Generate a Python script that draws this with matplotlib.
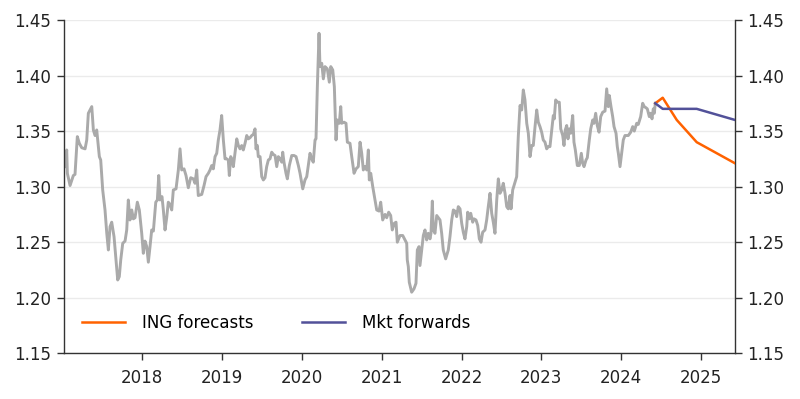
import matplotlib
matplotlib.use("Agg")
import matplotlib.pyplot as plt

# ==================== Data ====================
# spot history, x in decimal years
spot_year = [
    2017.031, 2017.052, 2017.060, 2017.094, 2017.135, 2017.156, 2017.185, 2017.210, 2017.240, 2017.282,
    2017.303, 2017.323, 2017.366, 2017.386, 2017.407, 2017.428, 2017.461, 2017.478, 2017.503, 2017.532,
    2017.554, 2017.574, 2017.595, 2017.616, 2017.645, 2017.670, 2017.691, 2017.711, 2017.729, 2017.754,
    2017.783, 2017.804, 2017.824, 2017.845, 2017.867, 2017.887, 2017.908, 2017.937, 2017.962, 2017.992,
    2018.012, 2018.033, 2018.055, 2018.075, 2018.096, 2018.117, 2018.138, 2018.168, 2018.188, 2018.205,
    2018.221, 2018.246, 2018.263, 2018.284, 2018.305, 2018.325, 2018.347, 2018.368, 2018.388, 2018.422,
    2018.451, 2018.472, 2018.493, 2018.522, 2018.547, 2018.576, 2018.606, 2018.639, 2018.660, 2018.681,
    2018.701, 2018.744, 2018.773, 2018.798, 2018.827, 2018.848, 2018.869, 2018.889, 2018.911, 2018.932,
    2018.952, 2018.973, 2018.994, 2019.015, 2019.036, 2019.057, 2019.077, 2019.090, 2019.107, 2019.127,
    2019.140, 2019.161, 2019.183, 2019.203, 2019.224, 2019.245, 2019.265, 2019.287, 2019.308, 2019.328,
    2019.349, 2019.371, 2019.391, 2019.412, 2019.424, 2019.441, 2019.453, 2019.475, 2019.496, 2019.516,
    2019.537, 2019.558, 2019.579, 2019.600, 2019.621, 2019.641, 2019.663, 2019.684, 2019.704, 2019.725,
    2019.747, 2019.759, 2019.775, 2019.800, 2019.817, 2019.842, 2019.872, 2019.901, 2019.926, 2019.955,
    2019.976, 2019.997, 2020.010, 2020.038, 2020.060, 2020.080, 2020.101, 2020.122, 2020.142, 2020.164,
    2020.176, 2020.193, 2020.214, 2020.226, 2020.248, 2020.268, 2020.289, 2020.318, 2020.343, 2020.361,
    2020.386, 2020.406, 2020.418, 2020.427, 2020.443, 2020.468, 2020.486, 2020.498, 2020.527, 2020.552,
    2020.569, 2020.602, 2020.624, 2020.653, 2020.678, 2020.706, 2020.728, 2020.749, 2020.769, 2020.790,
    2020.812, 2020.832, 2020.844, 2020.862, 2020.887, 2020.916, 2020.937, 2020.966, 2020.987, 2021.012,
    2021.041, 2021.062, 2021.087, 2021.112, 2021.132, 2021.157, 2021.179, 2021.195, 2021.229, 2021.263,
    2021.292, 2021.313, 2021.320, 2021.333, 2021.345, 2021.375, 2021.404, 2021.429, 2021.446, 2021.467,
    2021.479, 2021.501, 2021.521, 2021.542, 2021.563, 2021.583, 2021.605, 2021.617, 2021.634, 2021.646,
    2021.667, 2021.689, 2021.709, 2021.730, 2021.751, 2021.771, 2021.801, 2021.834, 2021.855, 2021.877,
    2021.897, 2021.918, 2021.939, 2021.959, 2021.981, 2022.002, 2022.022, 2022.043, 2022.065, 2022.077,
    2022.097, 2022.115, 2022.140, 2022.156, 2022.181, 2022.203, 2022.223, 2022.244, 2022.265, 2022.294,
    2022.315, 2022.335, 2022.357, 2022.378, 2022.398, 2022.419, 2022.441, 2022.461, 2022.482, 2022.503,
    2022.523, 2022.545, 2022.566, 2022.586, 2022.607, 2022.620, 2022.641, 2022.670, 2022.691, 2022.711,
    2022.733, 2022.754, 2022.774, 2022.795, 2022.817, 2022.837, 2022.858, 2022.879, 2022.899, 2022.921,
    2022.942, 2022.962, 2022.983, 2023.004, 2023.024, 2023.046, 2023.067, 2023.087, 2023.108, 2023.130,
    2023.150, 2023.162, 2023.180, 2023.200, 2023.225, 2023.243, 2023.268, 2023.284, 2023.300, 2023.318,
    2023.334, 2023.350, 2023.368, 2023.393, 2023.409, 2023.426, 2023.451, 2023.476, 2023.501, 2023.518,
    2023.535, 2023.560, 2023.576, 2023.601, 2023.619, 2023.644, 2023.660, 2023.681, 2023.701, 2023.723,
    2023.744, 2023.769, 2023.798, 2023.819, 2023.839, 2023.852, 2023.873, 2023.894, 2023.911, 2023.936,
    2023.952, 2023.965, 2023.986, 2024.007, 2024.027, 2024.048, 2024.090, 2024.120, 2024.145, 2024.165,
    2024.195, 2024.215, 2024.245, 2024.270, 2024.290, 2024.311, 2024.328, 2024.353, 2024.370, 2024.387,
    2024.403, 2024.416, 2024.428,
]
spot_value = [
    1.318, 1.333, 1.312, 1.301, 1.310, 1.311, 1.345, 1.339, 1.335, 1.334,
    1.342, 1.366, 1.372, 1.351, 1.346, 1.351, 1.327, 1.324, 1.297, 1.279,
    1.258, 1.243, 1.264, 1.268, 1.255, 1.234, 1.216, 1.219, 1.234, 1.249,
    1.251, 1.261, 1.288, 1.270, 1.279, 1.271, 1.272, 1.286, 1.279, 1.258,
    1.240, 1.251, 1.246, 1.232, 1.246, 1.261, 1.260, 1.286, 1.288, 1.310,
    1.288, 1.291, 1.279, 1.261, 1.272, 1.286, 1.284, 1.279, 1.297, 1.298,
    1.315, 1.334, 1.315, 1.316, 1.310, 1.299, 1.308, 1.307, 1.303, 1.315,
    1.292, 1.293, 1.301, 1.309, 1.312, 1.315, 1.319, 1.316, 1.327, 1.330,
    1.342, 1.351, 1.364, 1.342, 1.325, 1.325, 1.324, 1.310, 1.327, 1.324,
    1.318, 1.330, 1.343, 1.337, 1.334, 1.337, 1.333, 1.339, 1.346, 1.343,
    1.344, 1.346, 1.347, 1.352, 1.334, 1.337, 1.327, 1.327, 1.309, 1.306,
    1.308, 1.318, 1.324, 1.325, 1.331, 1.329, 1.328, 1.318, 1.327, 1.325,
    1.322, 1.331, 1.322, 1.312, 1.307, 1.319, 1.328, 1.328, 1.327, 1.319,
    1.312, 1.303, 1.298, 1.306, 1.309, 1.319, 1.330, 1.325, 1.322, 1.342,
    1.343, 1.390, 1.438, 1.408, 1.411, 1.397, 1.408, 1.406, 1.394, 1.408,
    1.405, 1.390, 1.363, 1.342, 1.360, 1.357, 1.372, 1.357, 1.358, 1.357,
    1.340, 1.339, 1.327, 1.312, 1.316, 1.318, 1.340, 1.330, 1.315, 1.318,
    1.315, 1.333, 1.306, 1.312, 1.300, 1.288, 1.279, 1.278, 1.286, 1.270,
    1.275, 1.272, 1.277, 1.274, 1.261, 1.267, 1.268, 1.250, 1.256, 1.256,
    1.252, 1.249, 1.234, 1.228, 1.214, 1.205, 1.208, 1.213, 1.243, 1.246,
    1.229, 1.243, 1.256, 1.261, 1.252, 1.258, 1.253, 1.258, 1.287, 1.261,
    1.258, 1.274, 1.272, 1.270, 1.258, 1.243, 1.235, 1.243, 1.255, 1.270,
    1.279, 1.278, 1.273, 1.282, 1.280, 1.267, 1.259, 1.253, 1.264, 1.277,
    1.271, 1.276, 1.268, 1.271, 1.270, 1.265, 1.253, 1.250, 1.259, 1.261,
    1.270, 1.282, 1.294, 1.276, 1.268, 1.258, 1.288, 1.307, 1.294, 1.297,
    1.303, 1.294, 1.282, 1.280, 1.292, 1.280, 1.297, 1.304, 1.309, 1.345,
    1.373, 1.369, 1.387, 1.378, 1.357, 1.348, 1.327, 1.337, 1.337, 1.354,
    1.369, 1.358, 1.354, 1.349, 1.342, 1.340, 1.334, 1.336, 1.336, 1.351,
    1.364, 1.361, 1.378, 1.376, 1.376, 1.352, 1.346, 1.337, 1.351, 1.355,
    1.343, 1.352, 1.348, 1.364, 1.340, 1.333, 1.319, 1.319, 1.330, 1.321,
    1.318, 1.324, 1.326, 1.342, 1.352, 1.360, 1.357, 1.366, 1.355, 1.349,
    1.363, 1.367, 1.368, 1.388, 1.372, 1.382, 1.372, 1.363, 1.354, 1.348,
    1.336, 1.330, 1.318, 1.330, 1.342, 1.346, 1.346, 1.349, 1.354, 1.350,
    1.357, 1.356, 1.363, 1.375, 1.372, 1.371, 1.370, 1.363, 1.366, 1.361,
    1.370, 1.366, 1.375,
]

ing_year = [2024.428, 2024.521, 2024.697, 2024.947, 2025.427]
ing_value = [1.375, 1.380, 1.360, 1.340, 1.321]

fwd_year = [2024.428, 2024.521, 2024.947, 2025.427]
fwd_value = [1.375, 1.370, 1.370, 1.360]

year_ticks = [2018, 2019, 2020, 2021, 2022, 2023, 2024, 2025]
y_ticks = [1.15, 1.20, 1.25, 1.30, 1.35, 1.40, 1.45]

# ==================== Plot ====================
plt.rcParams['font.family'] = ['DejaVu Sans']

fig = plt.figure(figsize=(8, 3.99), dpi=100)
ax = fig.add_axes([0.08, 0.1145, 0.83875, 0.8355])

ax.plot(spot_year, spot_value, color='#aaaaaa', lw=2.1, solid_joinstyle='round', zorder=2)
ax.plot(ing_year, ing_value, color='#ff6200', lw=1.8, label='ING forecasts', zorder=3)
ax.plot(fwd_year, fwd_value, color='#525199', lw=1.8, label='Mkt forwards', zorder=3)

ax.set_xlim(2017.018, 2025.427)
ax.set_ylim(1.15, 1.45)
ax.set_xticks(year_ticks)
ax.set_xticklabels([str(y) for y in year_ticks])
ax.set_yticks(y_ticks)
ax.set_yticklabels(['{:.2f}'.format(v) for v in y_ticks])

ax.grid(axis='y', color='#ebebeb', lw=1.0, zorder=0)
ax.set_axisbelow(True)

for side in ['left', 'right', 'bottom']:
    ax.spines[side].set_color('#333333')
    ax.spines[side].set_linewidth(1.0)
ax.spines['top'].set_visible(False)

ax.tick_params(axis='both', which='both', direction='out', length=5, width=1,
               color='#333333', labelcolor='#222222', labelsize=12)
ax.tick_params(axis='y', left=True, right=True, labelleft=True, labelright=True, pad=4)
ax.tick_params(axis='x', pad=6)

ax.legend(loc='center left', bbox_to_anchor=(0.027, 0.092), ncol=2, frameon=False,
          fontsize=12, handlelength=2.6, handletextpad=1.0, columnspacing=2.9,
          borderpad=0, borderaxespad=0)

fig.savefig('out.png', dpi=100)
